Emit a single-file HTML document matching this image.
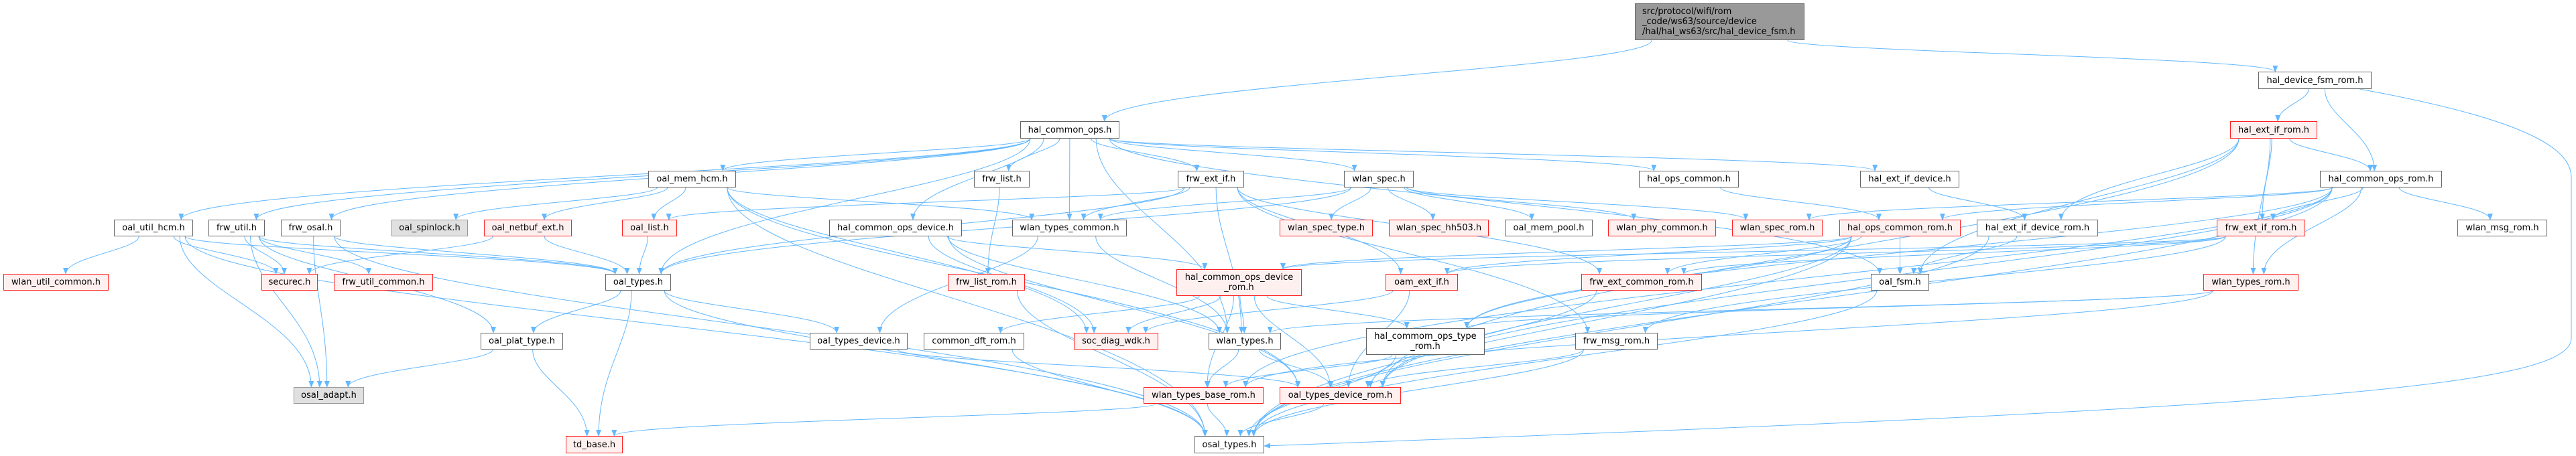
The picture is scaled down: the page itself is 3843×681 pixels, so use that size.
<!DOCTYPE html>
<html><head><meta charset="utf-8">
<style>
html,body{margin:0;padding:0;background:#fff;}
#c{position:relative;width:3843px;height:681px;overflow:hidden;font-family:"DejaVu Sans","Liberation Sans",sans-serif;font-size:13px;}
.n{position:absolute;box-sizing:border-box;border:1px solid #666;background:#fff;color:#000;display:flex;align-items:center;justify-content:center;text-align:center;line-height:15px;white-space:nowrap;z-index:2}
.r{border-color:#ff2020;background:#fff0f0}
.g{border-color:#999;background:#e0e0e0}
svg{position:absolute;left:0;top:0;z-index:1}
</style></head><body>
<div id="c">
<svg id="s" width="3843" height="681" xmlns="http://www.w3.org/2000/svg">
<defs><marker id="a" markerWidth="10" markerHeight="8" refX="9" refY="4" orient="auto" markerUnits="userSpaceOnUse"><path d="M0,0 L10,4 L0,8 z" fill="#63b8ff"/></marker></defs>
<g id="e" fill="none" stroke="#63b8ff" stroke-width="1"></g>
</svg>
<div class="n" id="top" style="left:2439px;top:5px;width:253px;height:53px;background:#999;justify-content:flex-start;text-align:left;padding-left:10px">src/protocol/wifi/rom<br>_code/ws63/source/device<br>/hal/hal_ws63/src/hal_device_fsm.h</div>
<div class="n" id="hdfr" style="left:3369px;top:104px;width:169px;height:25px">hal_device_fsm_rom.h</div>
<div class="n" id="hco" style="left:1522px;top:175px;width:148px;height:25px">hal_common_ops.h</div>
<div class="n r" id="heir" style="left:3327px;top:175px;width:130px;height:25px">hal_ext_if_rom.h</div>
<div class="n" id="omh" style="left:967px;top:247px;width:131px;height:24px">oal_mem_hcm.h</div>
<div class="n" id="fl" style="left:1453px;top:247px;width:83px;height:24px">frw_list.h</div>
<div class="n" id="fei" style="left:1757px;top:247px;width:99px;height:24px">frw_ext_if.h</div>
<div class="n" id="ws" style="left:2005px;top:247px;width:104px;height:24px">wlan_spec.h</div>
<div class="n" id="hoc" style="left:2445px;top:247px;width:149px;height:24px">hal_ops_common.h</div>
<div class="n" id="heid" style="left:2775px;top:247px;width:148px;height:24px">hal_ext_if_device.h</div>
<div class="n" id="hcor" style="left:3461px;top:247px;width:182px;height:24px">hal_common_ops_rom.h</div>
<div class="n" id="ouh" style="left:170px;top:318px;width:118px;height:24px">oal_util_hcm.h</div>
<div class="n" id="fu" style="left:311px;top:318px;width:84px;height:24px">frw_util.h</div>
<div class="n" id="fo" style="left:419px;top:318px;width:89px;height:24px">frw_osal.h</div>
<div class="n g" id="osl" style="left:584px;top:318px;width:114px;height:24px">oal_spinlock.h</div>
<div class="n r" id="one" style="left:722px;top:318px;width:131px;height:24px">oal_netbuf_ext.h</div>
<div class="n r" id="ol" style="left:928px;top:318px;width:82px;height:24px">oal_list.h</div>
<div class="n" id="hcod" style="left:1237px;top:318px;width:198px;height:24px">hal_common_ops_device.h</div>
<div class="n" id="wtc" style="left:1510px;top:318px;width:171px;height:24px">wlan_types_common.h</div>
<div class="n r" id="wst" style="left:1909px;top:318px;width:139px;height:24px">wlan_spec_type.h</div>
<div class="n r" id="wsh" style="left:2072px;top:318px;width:149px;height:24px">wlan_spec_hh503.h</div>
<div class="n" id="omp" style="left:2245px;top:318px;width:131px;height:24px">oal_mem_pool.h</div>
<div class="n r" id="wpc" style="left:2399px;top:318px;width:161px;height:24px">wlan_phy_common.h</div>
<div class="n r" id="wsr" style="left:2584px;top:318px;width:135px;height:24px">wlan_spec_rom.h</div>
<div class="n r" id="hocr" style="left:2744px;top:318px;width:181px;height:24px">hal_ops_common_rom.h</div>
<div class="n" id="heidr" style="left:2949px;top:318px;width:181px;height:24px">hal_ext_if_device_rom.h</div>
<div class="n r" id="feir" style="left:3307px;top:318px;width:132px;height:24px">frw_ext_if_rom.h</div>
<div class="n" id="wmr" style="left:3666px;top:318px;width:134px;height:24px">wlan_msg_rom.h</div>
<div class="n r" id="wuc" style="left:5px;top:396px;width:157px;height:24px">wlan_util_common.h</div>
<div class="n r" id="sec" style="left:390px;top:396px;width:84px;height:24px">securec.h</div>
<div class="n r" id="fuc" style="left:498px;top:396px;width:148px;height:24px">frw_util_common.h</div>
<div class="n" id="ot" style="left:903px;top:396px;width:98px;height:24px">oal_types.h</div>
<div class="n r" id="flr" style="left:1414px;top:396px;width:115px;height:24px">frw_list_rom.h</div>
<div class="n r" id="hcodr" style="left:1755px;top:389px;width:187px;height:39px">hal_common_ops_device<br>_rom.h</div>
<div class="n r" id="oei" style="left:2067px;top:396px;width:108px;height:24px">oam_ext_if.h</div>
<div class="n r" id="fecr" style="left:2359px;top:396px;width:180px;height:24px">frw_ext_common_rom.h</div>
<div class="n" id="ofsm" style="left:2791px;top:396px;width:87px;height:24px">oal_fsm.h</div>
<div class="n r" id="wtr" style="left:3287px;top:396px;width:142px;height:24px">wlan_types_rom.h</div>
<div class="n" id="opt" style="left:717px;top:481px;width:123px;height:24px">oal_plat_type.h</div>
<div class="n" id="otd" style="left:1208px;top:481px;width:146px;height:24px">oal_types_device.h</div>
<div class="n" id="cdr" style="left:1378px;top:481px;width:150px;height:24px">common_dft_rom.h</div>
<div class="n r" id="sdw" style="left:1602px;top:481px;width:126px;height:24px">soc_diag_wdk.h</div>
<div class="n" id="wt" style="left:1803px;top:481px;width:108px;height:24px">wlan_types.h</div>
<div class="n" id="hcotr" style="left:2038px;top:474px;width:177px;height:39px">hal_commom_ops_type<br>_rom.h</div>
<div class="n" id="fmr" style="left:2350px;top:481px;width:123px;height:24px">frw_msg_rom.h</div>
<div class="n g" id="oa" style="left:438px;top:560px;width:105px;height:24px">osal_adapt.h</div>
<div class="n r" id="wtbr" style="left:1706px;top:560px;width:179px;height:24px">wlan_types_base_rom.h</div>
<div class="n r" id="otdr" style="left:1909px;top:560px;width:181px;height:24px">oal_types_device_rom.h</div>
<div class="n r" id="tdb" style="left:844px;top:630px;width:85px;height:25px">td_base.h</div>
<div class="n" id="ost" style="left:1782px;top:630px;width:104px;height:25px">osal_types.h</div>
</div>
<script>
Array.prototype.forEach.call(document.querySelectorAll('.n'),function(e){
var t=parseFloat(e.style.top),h=parseFloat(e.style.height);
e.style.top=Math.round(t*1.033)+'px';e.style.height=Math.round(h*1.033)+'px';});
var E=[["top","hco"],["top","hdfr"],["hdfr","heir"],["hdfr","hcor"],
["heir","hcor"],["heir","feir"],["heir","wtr"],["heir","heidr"],["heir","ofsm"],["heir","otdr"],
["hcor","wmr"],["hcor","feir"],["hcor","wtr"],["hcor","wsr"],["hcor","hocr"],["hcor","otdr"],["hcor","ost"],["hcor","hcotr"],["hcor","wtbr"],
["hco","ouh"],["hco","fu"],["hco","fo"],["hco","omh"],["hco","fl"],["hco","wtc"],["hco","hcod"],["hco","fei"],["hco","ws"],["hco","hoc"],["hco","heid"],["hco","wt"],["hco","ot"],["hco","ofsm"],
["ouh","wuc"],["ouh","sec"],["ouh","oa"],["ouh","ost"],["ouh","ot"],
["fu","sec"],["fu","fuc"],["fu","oa"],["fu","opt"],["fu","ot"],
["fo","ot"],["fo","oa"],["fo","ost"],
["omh","osl"],["omh","one"],["omh","ol"],["omh","wtc"],["omh","ost"],["omh","otdr"],["omh","sdw"],
["one","ot"],["one","sec"],["ol","ot"],
["ot","opt"],["ot","tdb"],["ot","ost"],["ot","otd"],["opt","tdb"],["opt","oa"],
["fl","flr"],["flr","ost"],
["fei","ot"],["fei","ol"],["fei","wtc"],["fei","oei"],["fei","fecr"],["fei","fmr"],["fei","wt"],
["hcod","hcodr"],["hcod","wt"],["hcod","otdr"],["hcod","sdw"],
["wtc","otd"],["wtc","wt"],
["ws","wst"],["ws","wsh"],["ws","omp"],["ws","wpc"],["ws","wsr"],["ws","ot"],["ws","wtc"],
["hoc","hocr"],["heid","heidr"],
["hocr","ofsm"],["hocr","oei"],["hocr","hcodr"],["hocr","fecr"],["hocr","hcotr"],["hocr","ost"],["hocr","otdr"],
["heidr","ofsm"],["heidr","ost"],["ofsm","ost"],
["feir","fecr"],["feir","hcodr"],["feir","oei"],["feir","fmr"],
["wtr","wt"],["wtr","hcotr"],["wtr","wtbr"],
["hcodr","wt"],["hcodr","wtbr"],["hcodr","otdr"],["hcodr","hcotr"],["hcodr","cdr"],["hcodr","sdw"],
["oei","otdr"],["oei","sdw"],["fecr","otdr"],["hcotr","wtbr"],["hcotr","ost"],
["fmr","otdr"],["fmr","ost"],["otd","otdr"],["cdr","ost"],["wt","wtbr"],["wt","otdr"],
["wtbr","tdb"],["wtbr","ost"],["otdr","ost"]];
function b(id){var e=document.getElementById(id);return {x:e.offsetLeft,y:e.offsetTop,w:e.offsetWidth,h:e.offsetHeight};}
var g=document.getElementById("e"),h="";
E.forEach(function(p){var s=b(p[0]),t=b(p[1]);
var scx=s.x+s.w/2,tcx=t.x+t.w/2,dx=tcx-scx;
var sx=scx+Math.max(-s.w*0.4,Math.min(s.w*0.4,dx*0.15));
var sy=s.y+s.h;
var tx=tcx-Math.max(-t.w*0.35,Math.min(t.w*0.35,dx*0.1));
var ty=t.y;
var dy=ty-sy;
h+='<path d="M'+sx.toFixed(1)+','+sy+' C'+sx.toFixed(1)+','+(sy+dy*0.35).toFixed(1)+' '+tx.toFixed(1)+','+(ty-dy*0.45).toFixed(1)+' '+tx.toFixed(1)+','+ty+'" marker-end="url(#a)"/>';});
h+='<path d="M3520,133 C3780,180 3836,225 3836,265 L3836,505 C3836,580 3400,610 1886,666" marker-end="url(#a)"/>';
g.innerHTML=h;
</script>
</body></html>
